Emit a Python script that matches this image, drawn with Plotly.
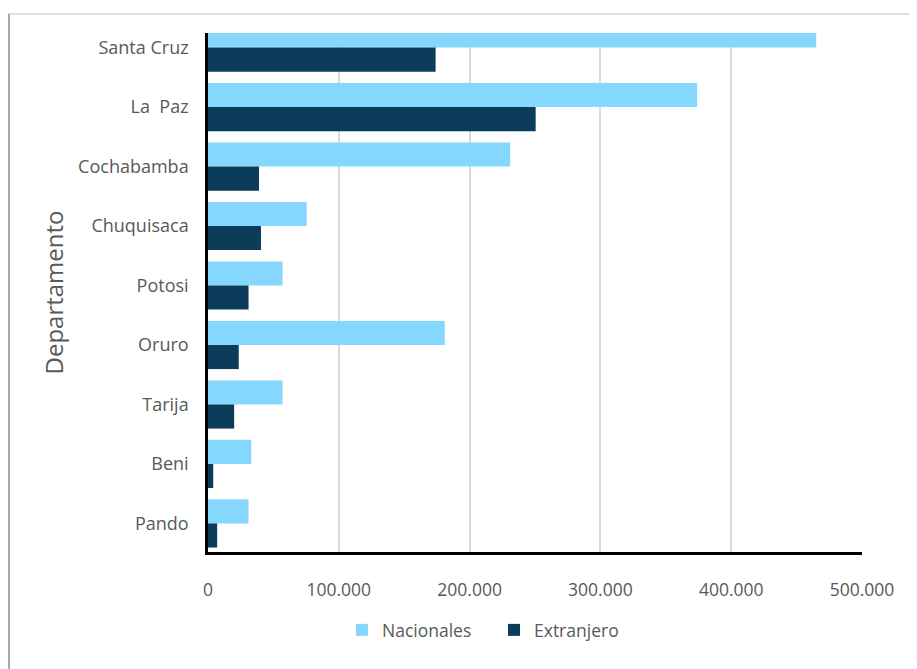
import plotly.graph_objects as go

departamentos = ["Santa Cruz", "La  Paz", "Cochabamba", "Chuquisaca", "Potosi",
                 "Oruro", "Tarija", "Beni", "Pando"]
nacionales = [465000, 374000, 231000, 75500, 57000, 181000, 57000, 33000, 31000]
extranjero = [174000, 250500, 39000, 40500, 31000, 23500, 20000, 4000, 7000]
x_ticks = [0, 100000, 200000, 300000, 400000, 500000]
x_ticklabels = ["0", "100.000", "200.000", "300.000", "400.000", "500.000"]

labels = [d.replace("  ", "\u00a0\u00a0") for d in departamentos]

FONT = "Open Sans"
GRAY = "#595959"

# page body has an 8px default margin, so the figure is laid out 8px smaller
W, H = 909, 661
L, T, R, B = 200, 25, 55, 117
PW, PH = W - L - R, H - T - B

fig = go.Figure()
fig.add_trace(go.Bar(y=labels, x=nacionales, orientation="h", name="Nacionales",
                     marker=dict(color="#86d7fe", line=dict(width=0))))
fig.add_trace(go.Bar(y=labels, x=extranjero, orientation="h", name="Extranjero",
                     marker=dict(color="#0b3c5a", line=dict(width=0))))

fig.update_layout(
    width=W, height=H,
    margin=dict(l=L, r=R, t=T, b=B),
    paper_bgcolor="white", plot_bgcolor="white",
    barmode="group", bargap=0.19, bargroupgap=0,
    font=dict(family=FONT, color=GRAY, size=17),
    showlegend=True,
    legend=dict(orientation="h", x=(486 - L) / PW, xanchor="center",
                y=(T + PH - 622) / PH, yanchor="middle",
                font=dict(size=17.5, color=GRAY), itemwidth=30,
                entrywidth=107, entrywidthmode="pixels"),
    xaxis=dict(range=[0, 500000], tickvals=x_ticks, ticktext=x_ticklabels,
               showgrid=True, gridcolor="#d9d9d9", gridwidth=2,
               showline=True, linecolor="black", linewidth=2.5,
               zeroline=False, ticks="", ticklabelstandoff=20,
               tickfont=dict(size=17.5, color=GRAY)),
    yaxis=dict(categoryorder="array", categoryarray=labels,
               range=[8.48, -0.245], showgrid=False,
               showline=True, linecolor="black", linewidth=2.5,
               ticks="", ticklabelstandoff=13,
               tickfont=dict(size=18, color=GRAY),
               title=dict(text="Departamento", standoff=8,
                          font=dict(size=24, color=GRAY))),
    shapes=[
        dict(type="line", xref="paper", yref="paper",
             x0=(0 - L) / PW, x1=(W - L) / PW,
             y0=(T + PH - 6) / PH, y1=(T + PH - 6) / PH,
             line=dict(color="#d4d4d4", width=1.5)),
        dict(type="line", xref="paper", yref="paper",
             x0=(1 - L) / PW, x1=(1 - L) / PW,
             y0=(T + PH - 6) / PH, y1=(T + PH - H) / PH,
             line=dict(color="#a8a8a8", width=2)),
    ],
)

fig.write_html("out.html")
